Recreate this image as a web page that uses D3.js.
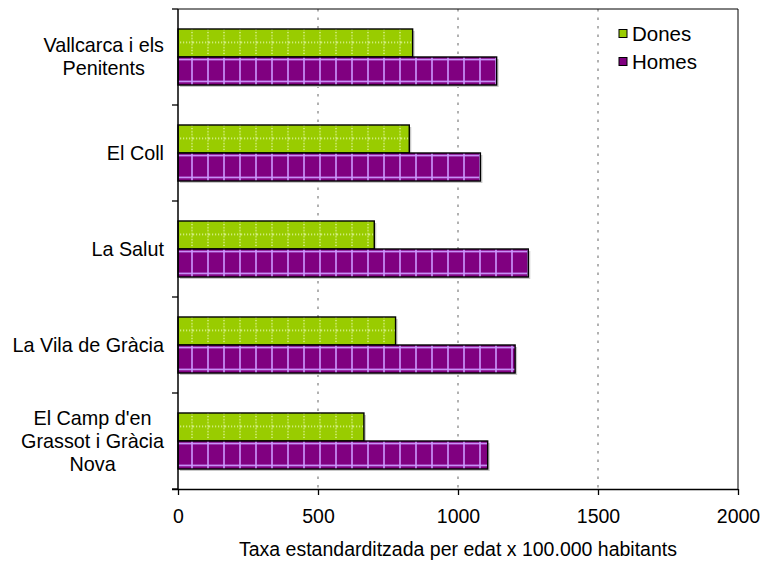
<!DOCTYPE html>
<html><head><meta charset="utf-8">
<script src="https://cdn.jsdelivr.net/npm/d3@7"></script>
<style>body{margin:0;background:#fff}svg{display:block}text{font-family:"Liberation Sans",Arial,sans-serif;fill:#000}</style>
</head><body><svg id="c" width="761" height="562"></svg>
<script>
const categories = ["Vallcarca i els|Penitents", "El Coll", "La Salut", "La Vila de Gràcia", "El Camp d'en|Grassot i Gràcia|Nova"];
const series = ["Dones", "Homes"];
const dones = [838, 826, 701, 777, 664];
const homes = [1138, 1080, 1251, 1204, 1106];
const xTicks = [0, 500, 1000, 1500, 2000];
const xTitle = "Taxa estandarditzada per edat x 100.000 habitants";
const colors = {Dones: "#99CC00", Homes: "#800080"};

const svg = d3.select("#c");
const L = 178, R = 738, T = 9, B = 489;
const x = d3.scaleLinear().domain([0, 2000]).range([L, R]);
const y = d3.scaleBand().domain(categories).range([T, B]);
const sub = d3.scaleBand().domain(series).range([0, y.bandwidth()]).paddingOuter(0.714);

const rows = [];
categories.forEach((c, i) => {
  rows.push({cat: c, s: "Dones", v: dones[i]});
  rows.push({cat: c, s: "Homes", v: homes[i]});
});

const defs = svg.append("defs");
rows.forEach((d, i) => {
  const by = y(d.cat) + sub(d.s);
  const h = sub.bandwidth();
  const p = defs.append("pattern").attr("id", "p" + i).attr("patternUnits", "userSpaceOnUse")
    .attr("x", L - 1).attr("y", by).attr("width", 16).attr("height", h);
  p.append("rect").attr("width", 16).attr("height", h).attr("fill", colors[d.s]);
  if (d.s === "Homes") {
    p.append("line").attr("x1", 0).attr("x2", 16).attr("y1", 2.5).attr("y2", 2.5).attr("stroke", "#CC99FF").attr("stroke-width", 1.6);
    p.append("line").attr("x1", 0).attr("x2", 16).attr("y1", h - 3.5).attr("y2", h - 3.5).attr("stroke", "#CC99FF").attr("stroke-width", 1.6);
    p.append("line").attr("x1", 15).attr("x2", 15).attr("y1", 0).attr("y2", h).attr("stroke", "#CC99FF").attr("stroke-width", 1.6);
  } else {
    p.append("line").attr("x1", 0).attr("x2", 16).attr("y1", h / 2 - 0.5).attr("y2", h / 2 - 0.5).attr("stroke", "#F0FFC0").attr("stroke-width", 1.2).attr("stroke-dasharray", "1.2,1.8");
    p.append("line").attr("x1", 15).attr("x2", 15).attr("y1", 0).attr("y2", h).attr("stroke", "#F0FFC0").attr("stroke-width", 1.2).attr("stroke-dasharray", "1.2,1.8");
  }
});

// gridlines
svg.append("g").selectAll("line").data(xTicks.filter(t => t > 0 && t < 2000)).join("line")
  .attr("x1", d => x(d)).attr("x2", d => x(d)).attr("y1", T).attr("y2", B)
  .attr("stroke", "#888").attr("stroke-width", 1.3).attr("stroke-dasharray", "2.5,6");

// plot border (top/right)
svg.append("path").attr("d", `M${L},${T}H${R}V${B}`).attr("fill", "none").attr("stroke", "#000").attr("stroke-width", 1);

// bar shadows
svg.append("g").selectAll("rect").data(rows).join("rect")
  .attr("x", x(0) + 2).attr("y", d => y(d.cat) + sub(d.s) + 2)
  .attr("width", d => x(d.v) - x(0)).attr("height", sub.bandwidth())
  .attr("fill", "#c8c8c8");

// bars
svg.append("g").selectAll("rect").data(rows).join("rect")
  .attr("x", x(0)).attr("y", d => y(d.cat) + sub(d.s))
  .attr("width", d => x(d.v) - x(0)).attr("height", sub.bandwidth())
  .attr("fill", (d, i) => `url(#p${i})`).attr("stroke", "#000").attr("stroke-width", 1.4);

// bottom axis
const xa = svg.append("g").attr("transform", `translate(0,${B})`)
  .call(d3.axisBottom(x).tickValues(xTicks).tickSize(6).tickSizeOuter(0).tickPadding(14).tickFormat(d3.format("d")));
xa.select(".domain").attr("stroke", "#000").attr("stroke-width", 1.5).attr("d", `M${L - 6},0.5H${R}`);
xa.selectAll(".tick line").attr("stroke", "#000").attr("stroke-width", 1.3);
xa.selectAll(".tick text").attr("font-size", 19.5).attr("font-family", "Liberation Sans, Arial, sans-serif").attr("fill", "#000");

// left axis with boundary ticks
const bounds = categories.map(c => y(c)).concat([B]);
svg.append("line").attr("x1", L).attr("x2", L).attr("y1", T).attr("y2", B).attr("stroke", "#000").attr("stroke-width", 1.5);
svg.append("g").selectAll("line").data(bounds).join("line")
  .attr("x1", L - 6).attr("x2", L).attr("y1", d => d).attr("y2", d => d)
  .attr("stroke", "#000").attr("stroke-width", 1.3);

// category labels
const lineH = 23, fs = 19.8, rightEdge = 164;
const lab = svg.append("g").attr("font-size", fs);
categories.forEach(c => {
  const lines = c.split("|");
  const cy = y(c) + y.bandwidth() / 2;
  const ts = lines.map((ln, j) => lab.append("text").attr("text-anchor", "middle").attr("x", 0)
    .attr("y", cy + (j - (lines.length - 1) / 2) * lineH + fs * 0.35).text(ln));
  const w = d3.max(ts, t => t.node().getComputedTextLength());
  ts.forEach(t => t.attr("x", rightEdge - w / 2));
});

// axis title
svg.append("text").attr("x", (L + R) / 2 - 0).attr("y", 556).attr("text-anchor", "middle").attr("font-size", 19.5).text(xTitle);

// legend
const lg = svg.append("g");
series.forEach((s, i) => {
  const ly = 34 + i * 28;
  lg.append("rect").attr("x", 619).attr("y", ly - 4.5).attr("width", 8).attr("height", 8)
    .attr("fill", colors[s]).attr("stroke", "#000").attr("stroke-width", 1);
  lg.append("text").attr("x", 632).attr("y", ly + 7).attr("font-size", 20.5).text(s);
});
</script></body></html>
